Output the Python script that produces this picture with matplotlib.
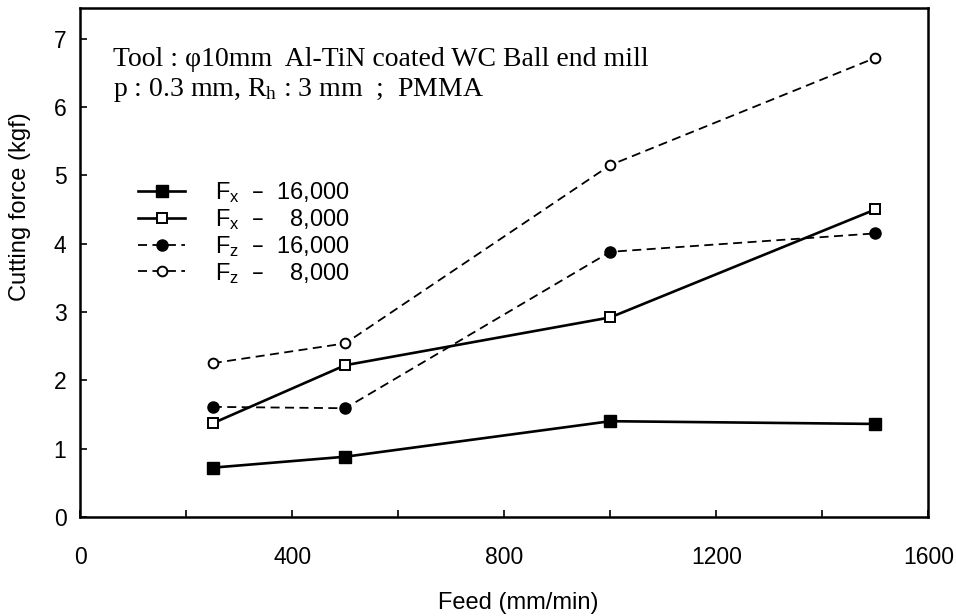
import matplotlib
matplotlib.use("Agg")
import matplotlib.pyplot as plt

# feed (mm/min) and cutting force (kgf)
feed = [250, 500, 1000, 1500]
fx_16000 = [0.72, 0.88, 1.40, 1.36]
fx_8000 = [1.37, 2.22, 2.92, 4.50]
fz_16000 = [1.61, 1.59, 3.88, 4.15]
fz_8000 = [2.25, 2.54, 5.15, 6.72]

labels = ["F$_x$  –  16,000", "F$_x$  –    8,000",
          "F$_z$  –  16,000", "F$_z$  –    8,000"]

plt.rcParams['font.family'] = ['Liberation Sans', 'DejaVu Sans']
plt.rcParams['mathtext.default'] = 'regular'

fig = plt.figure(figsize=(9.56, 6.16), dpi=100)
ax = fig.add_axes([0.084, 0.161, 0.887, 0.826])

ax.plot(feed, fx_16000, '-', color='black', lw=1.9, marker='s', ms=8,
        mfc='black', label=labels[0])
ax.plot(feed, fx_8000, '-', color='black', lw=1.9, marker='s', ms=7,
        mfc='white', mew=1.4, label=labels[1])
ax.plot(feed, fz_16000, '--', color='black', lw=1.3, dashes=(5, 3), marker='o', ms=8,
        mfc='black', label=labels[2])
ax.plot(feed, fz_8000, '--', color='black', lw=1.3, dashes=(5, 3), marker='o', ms=7,
        mfc='white', mew=1.4, label=labels[3])

ax.set_xlim(0, 1600)
ax.set_ylim(0, 7.45)
ax.set_xticks([0, 400, 800, 1200, 1600])
ax.set_xticks([200, 600, 1000, 1400], minor=True)
ax.set_yticks(range(0, 8))
ax.tick_params(which='both', direction='in', length=5, width=1.2)
ax.tick_params(axis='x', which='major', pad=21, labelsize=16.5)
ax.tick_params(axis='y', labelsize=16.5, pad=10)
for s in ax.spines.values():
    s.set_linewidth(1.8)

ax.set_xlabel("Feed (mm/min)", fontsize=17)
ax.set_ylabel("Cutting force (kgf)", fontsize=17)
ax.xaxis.set_label_coords(0.517, -0.147)
ax.yaxis.set_label_coords(-0.058, 0.61)

ax.text(0.039, 0.899, "Tool : φ10mm  Al-TiN coated WC Ball end mill",
        transform=ax.transAxes, fontsize=20, family='Liberation Serif', va='center')
ax.text(0.039, 0.839, "p : 0.3 mm, R$_h$ : 3 mm  ;  PMMA",
        transform=ax.transAxes, fontsize=20, family='Liberation Serif', va='center')

ax.legend(loc='upper left', bbox_to_anchor=(0.043, 0.703), frameon=False,
          fontsize=17, handlelength=2.0, labelspacing=0.08, handletextpad=1.25)

fig.savefig("out.png", dpi=100)
